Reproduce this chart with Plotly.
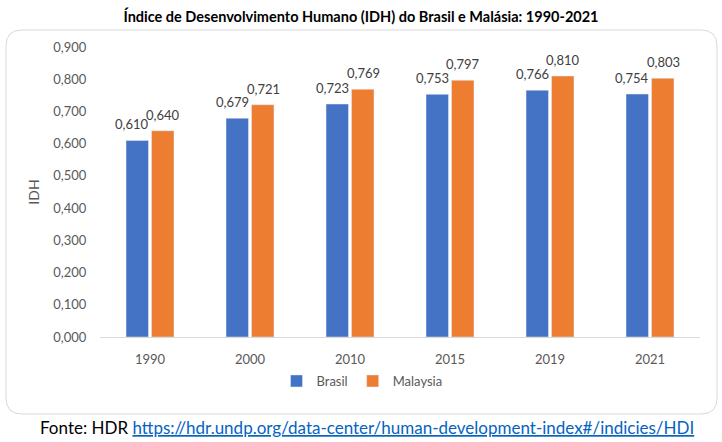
import plotly.graph_objects as go

years = ["1990", "2000", "2010", "2015", "2019", "2021"]
brasil = [0.610, 0.679, 0.723, 0.753, 0.766, 0.754]
malaysia = [0.640, 0.721, 0.769, 0.797, 0.810, 0.803]
y_ticks = [0.0, 0.1, 0.2, 0.3, 0.4, 0.5, 0.6, 0.7, 0.8, 0.9]

FONT = "Lato"
W, H = 722, 442
L, R, T, B = 100, 22, 47, 105
PW, PH = W - L - R, H - T - B

def px(x):
    return (x - L) / PW

def py(y):
    return (H - B - y) / PH

fig = go.Figure()
fig.add_trace(go.Bar(name="Brasil", x=years, y=brasil, marker_color="#4472C4"))
fig.add_trace(go.Bar(name="Malaysia", x=years, y=malaysia, marker_color="#ED7D31"))

# data labels (category index + value in data coordinates, shifted to sit above each bar)
for i, v in enumerate(brasil):
    fig.add_annotation(x=i, y=v, text=f"{v:.3f}".replace(".", ","), showarrow=False,
                       xshift=-18, yshift=16, yanchor="middle",
                       font=dict(size=13, color="#404040", family=FONT))
for i, v in enumerate(malaysia):
    fig.add_annotation(x=i, y=v, text=f"{v:.3f}".replace(".", ","), showarrow=False,
                       xshift=13, yshift=16, yanchor="middle",
                       font=dict(size=13, color="#404040", family=FONT))

# rounded frame
x0, x1, y0, y1, r = px(6), px(717), py(30), py(414), 16
rx, ry = r / PW, r / PH
path = (f"M {x0+rx},{y0} L {x1-rx},{y0} Q {x1},{y0} {x1},{y0-ry} "
        f"L {x1},{y1+ry} Q {x1},{y1} {x1-rx},{y1} L {x0+rx},{y1} Q {x0},{y1} {x0},{y1+ry} "
        f"L {x0},{y0-ry} Q {x0},{y0} {x0+rx},{y0} Z")
fig.add_shape(type="path", path=path, xref="paper", yref="paper",
              line=dict(color="#D9D9D9", width=1), layer="below")

fig.update_layout(
    width=W, height=H, margin=dict(l=L, r=R, t=T, b=B),
    paper_bgcolor="white", plot_bgcolor="white",
    separators=",.",
    barmode="group", bargap=0.49, bargroupgap=0.12,
    font=dict(family=FONT, color="#595959", size=13),
    title=dict(text="<b>Índice de Desenvolvimento Humano (IDH) do Brasil e Malásia: 1990-2021</b>",
               x=0.5, xanchor="center", y=1 - 17 / H, yanchor="middle",
               font=dict(size=14.5, color="black", family=FONT)),
    legend=dict(orientation="h", x=0.5 - 38 / PW, xanchor="center", y=py(381), yanchor="middle",
                font=dict(size=13, color="#595959", family=FONT), itemwidth=30,
                traceorder="normal"),
    showlegend=True,
)
fig.update_xaxes(type="category", range=[-0.5, len(years) - 0.5], showline=True,
                 linecolor="#D9D9D9", linewidth=1, ticks="outside",
                 ticklen=10, tickcolor="rgba(0,0,0,0)", showgrid=False,
                 tickfont=dict(size=13, color="#595959"))
fig.update_yaxes(range=[0, 0.9], tickvals=y_ticks, tickformat=".3f", showgrid=False,
                 zeroline=False, ticks="outside", ticklen=10, tickcolor="rgba(0,0,0,0)",
                 title=dict(text="IDH", font=dict(size=14, color="#595959"), standoff=10),
                 tickfont=dict(size=13, color="#595959"))

fig.add_annotation(xref="paper", yref="paper", x=px(38), y=py(427), xanchor="left", yanchor="middle",
                   showarrow=False, font=dict(size=17, color="black", family=FONT),
                   text="Fonte: HDR <span style='color:#0563C1;text-decoration:underline'>"
                        "https://hdr.undp.org/data-center/human-development-index#/indicies/HDI</span>")

fig.write_html("out.html")
